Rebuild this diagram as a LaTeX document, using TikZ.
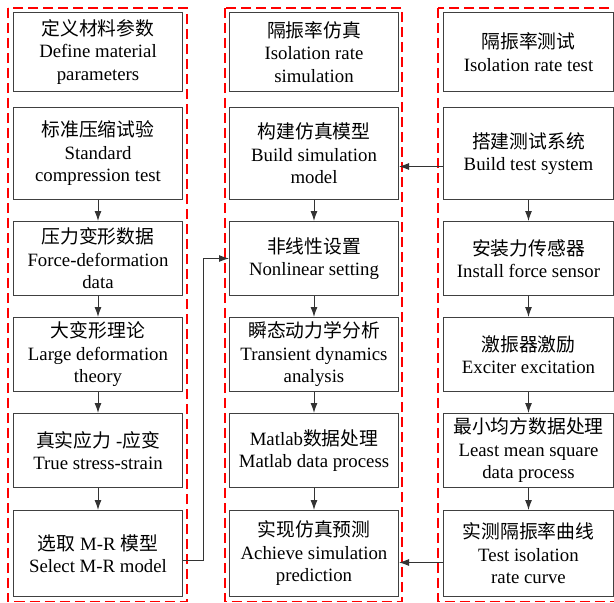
\documentclass[tikz,border=0pt]{standalone}
\usepackage{fontspec}
\setmainfont{Liberation Serif}
\newfontfamily\cjk{Noto Sans CJK SC}
\usetikzlibrary{positioning,arrows.meta}
\tikzstyle{stage}=[draw=black!75,line width=1pt,minimum width=169pt,inner sep=0pt,align=center,font=\fontsize{18.8}{22.5}\selectfont]
\tikzstyle{frame}=[draw=red,line width=1.8pt,dash pattern=on 10pt off 5pt]
\tikzstyle{flow}=[-{Latex[length=10pt,width=7pt]},line width=1pt,draw=black!80]

\begin{document}
\begin{tikzpicture}
\clip (0,0) rectangle (614pt,-603pt);

% material column
\node (m1) [stage,minimum height=79pt,anchor=north west] at (13pt,-12pt) {{\cjk 定义材料参数}\\Define material\\parameters};
\node (m2) [stage,minimum height=92pt,below=15pt of m1] {{\cjk 标准压缩试验}\\Standard\\compression test};
\node (m3) [stage,minimum height=74pt,below=21pt of m2] {{\cjk 压力变形数据}\\Force-deformation\\data};
\node (m4) [stage,minimum height=74pt,below=21pt of m3] {{\cjk 大变形理论}\\Large deformation\\theory};
\node (m5) [stage,minimum height=74pt,below=21pt of m4] {{\cjk 真实应力} -{\cjk 应变}\\True stress-strain};
\node (m6) [stage,minimum height=86pt,below=22pt of m5] {{\cjk 选取} M-R {\cjk 模型}\\Select M-R model};

% simulation column
\node (s1) [stage,minimum height=79pt,anchor=north west] at (229pt,-12pt) {{\cjk 隔振率仿真}\\Isolation rate\\simulation};
\node (s2) [stage,minimum height=92pt,below=15pt of s1] {{\cjk 构建仿真模型}\\Build simulation\\model};
\node (s3) [stage,minimum height=74pt,below=21pt of s2] {{\cjk 非线性设置}\\Nonlinear setting};
\node (s4) [stage,minimum height=74pt,below=21pt of s3] {{\cjk 瞬态动力学分析}\\Transient dynamics\\analysis};
\node (s5) [stage,minimum height=74pt,below=21pt of s4] {Matlab{\cjk 数据处理}\\Matlab data process};
\node (s6) [stage,minimum height=86pt,below=22pt of s5] {{\cjk 实现仿真预测}\\Achieve simulation\\prediction};

% test column
\node (t1) [stage,minimum width=170pt,minimum height=79pt,anchor=north west] at (443pt,-12pt) {{\cjk 隔振率测试}\\Isolation rate test};
\node (t2) [stage,minimum width=170pt,minimum height=92pt,below=15pt of t1] {{\cjk 搭建测试系统}\\Build test system};
\node (t3) [stage,minimum width=170pt,minimum height=74pt,below=21pt of t2] {{\cjk 安装力传感器}\\Install force sensor};
\node (t4) [stage,minimum width=170pt,minimum height=74pt,below=21pt of t3] {{\cjk 激振器激励}\\Exciter excitation};
\node (t5) [stage,minimum width=170pt,minimum height=74pt,below=21pt of t4] {{\cjk 最小均方数据处理}\\Least mean square\\data process};
\node (t6) [stage,minimum width=170pt,minimum height=86pt,below=22pt of t5] {{\cjk 实测隔振率曲线}\\Test isolation\\rate curve};

\draw[frame] (8pt,-8pt) rectangle (187pt,-601.5pt);
\draw[frame] (225pt,-8pt) rectangle (402pt,-601.5pt);
\draw[frame] (438pt,-8pt) rectangle (620pt,-601.5pt);

\begin{scope}[flow]
\draw (m2) -- (m3);
\draw (m3) -- (m4);
\draw (m4) -- (m5);
\draw (m5) -- (m6);
\draw (s2) -- (s3);
\draw (s3) -- (s4);
\draw (s4) -- (s5);
\draw (s5) -- (s6);
\draw (t2) -- (t3);
\draw (t3) -- (t4);
\draw (t4) -- (t5);
\draw (t5) -- (t6);
\draw ([yshift=-13pt]t2.west) -- ([yshift=-13pt]s2.east);
\draw ([yshift=-9pt]t6.west) -- ([yshift=-9pt]s6.east);
\draw ([yshift=-7pt]m6.east) -- ++(20pt,0) |- (s3.west);
\end{scope}
\end{tikzpicture}
\end{document}
